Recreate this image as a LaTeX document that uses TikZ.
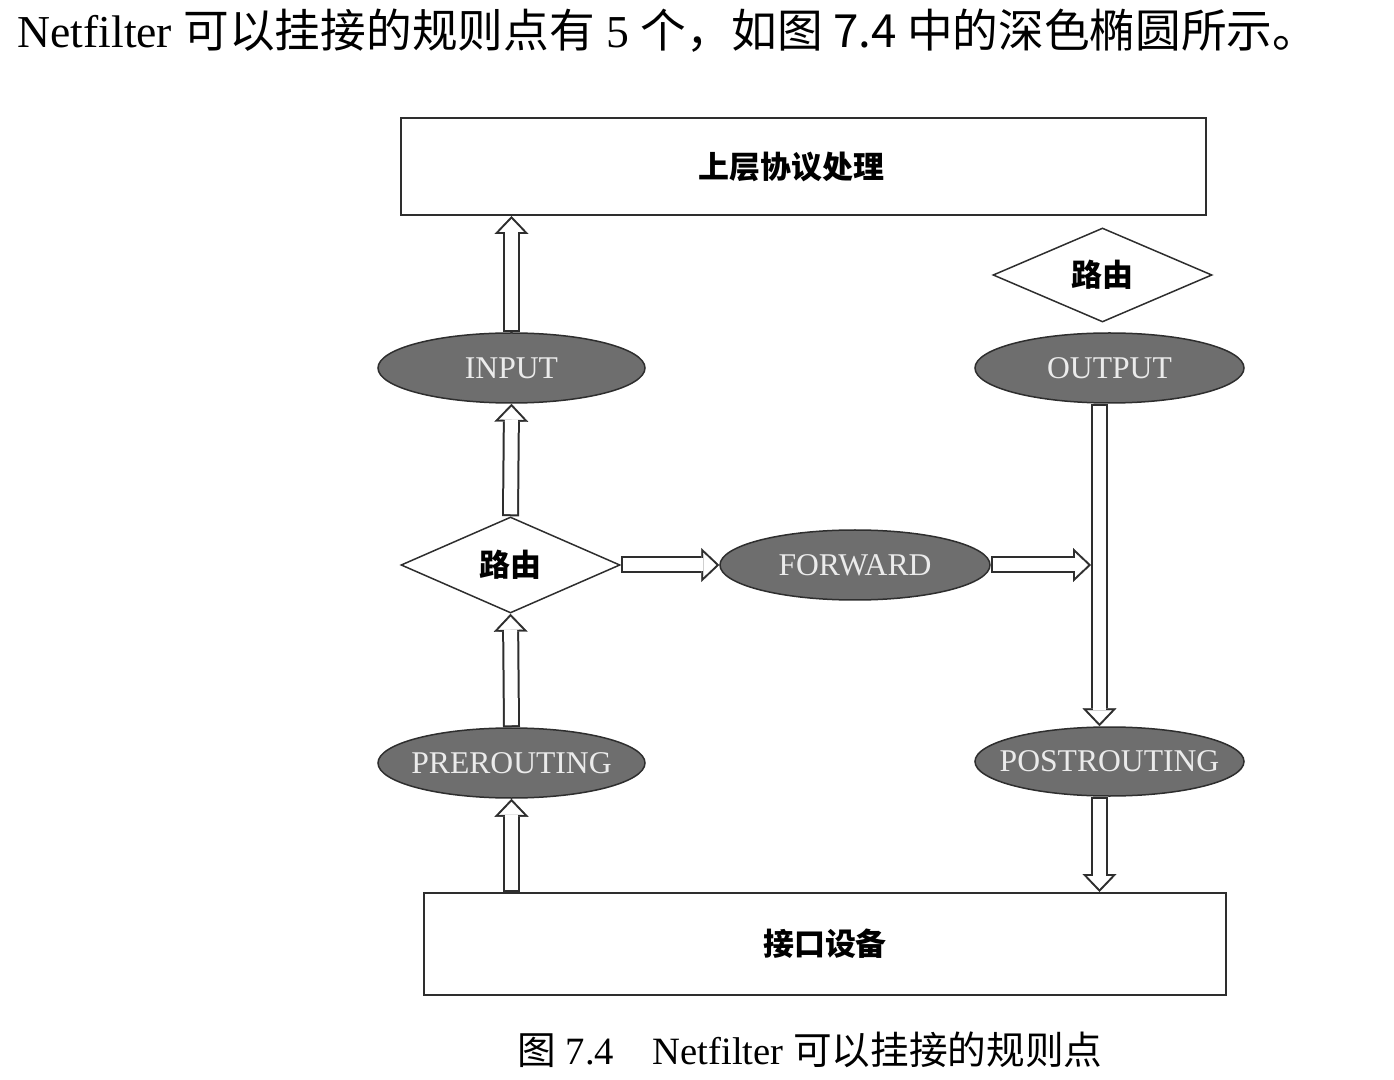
\documentclass[tikz,border=0pt]{standalone}
\usepackage{fontspec}
\setmainfont{Liberation Serif}
\newfontfamily\cjk{Noto Sans CJK SC}
\usetikzlibrary{shapes.geometric,arrows.meta,backgrounds}
\definecolor{edge}{HTML}{2E2E2E}
\definecolor{hook}{HTML}{6E6E6E}
\begin{document}
\begin{tikzpicture}[
    box/.style={draw=edge, line width=0.2mm, inner sep=0pt, font=\cjk\bfseries\fontsize{8.8pt}{10pt}\selectfont},
    hookpoint/.style={ellipse, draw=edge, fill=hook, line width=0.15mm, inner sep=0pt, text=white!92!black, font=\fontsize{9pt}{10pt}\selectfont},
    route/.style={diamond, draw=edge, line width=0.15mm, inner sep=0pt, minimum width=2.19cm, minimum height=0.96cm, font=\cjk\bfseries\fontsize{8.8pt}{10pt}\selectfont},
    hollow/.style={draw=edge, line width=1.7mm, -{Triangle[length=1.8mm, width=3.4mm, line width=0.1pt]},
        postaction={draw=white, line width=1.3mm, -{Triangle[length=1.3mm, width=2.46mm, line width=0.1pt]}, shorten >=0.3mm, shorten <=0.2mm}}
]
\useasboundingbox (0,0) rectangle (13.94,-10.80);
\node[anchor=base west, font=\fontsize{13pt}{15pt}\selectfont] (intro) at (0.05,-0.48) {Netfilter {\cjk 可以挂接的规则点有} 5 {\cjk 个，如图 7.4 中的深色椭圆所示。}};
\node[box, minimum width=8.05cm, minimum height=0.97cm] (upper) at (8.035,-1.665) {\hspace*{-0.24cm}上层协议处理};
\node[box, minimum width=8.02cm, minimum height=1.02cm] (ifdev) at (8.25,-9.44) {接口设备};
\node[hookpoint, minimum width=2.67cm, minimum height=0.70cm] (input) at (5.115,-3.68) {\makebox[0pt]{INPUT}};
\node[route] (route1) at (5.105,-5.65) {路由};
\node[hookpoint, minimum width=2.70cm, minimum height=0.70cm] (forward) at (8.55,-5.65) {\makebox[0pt]{FORWARD}};
\node[route, minimum height=0.94cm] (route2) at (11.025,-2.75) {路由};
\node[hookpoint, minimum width=2.69cm, minimum height=0.70cm] (output) at (11.095,-3.68) {\makebox[0pt]{OUTPUT}};
\node[hookpoint, minimum width=2.69cm, minimum height=0.69cm] (postrouting) at (11.095,-7.615) {\makebox[0pt]{POSTROUTING}};
\node[hookpoint, minimum width=2.67cm, minimum height=0.70cm] (prerouting) at (5.115,-7.63) {\makebox[0pt]{PREROUTING}};
\node[font=\fontsize{11pt}{13pt}\selectfont] (caption) at (8.1,-10.5) {{\cjk 图} 7.4\quad Netfilter {\cjk 可以挂接的规则点}};
\coordinate (merge) at ([xshift=-1.85mm]output.south |- forward.east);
\begin{scope}[on background layer]
\draw[hollow] (input.north) -- (input.north |- upper.south);
\draw[hollow] (route1.north) -- (input.south);
\draw[hollow] (prerouting.north) -- (route1.south);
\draw[hollow] (prerouting |- ifdev.north) -- (prerouting.south);
\draw[hollow] (route1.east) -- (forward.west);
\draw[hollow] (forward.east) -- (merge);
\draw[hollow] ([xshift=-1mm]output.south) -- ([xshift=-1mm]postrouting.north);
\draw[hollow] ([xshift=-1mm]postrouting.south) -- ([xshift=-1mm]postrouting.south |- ifdev.north);
\end{scope}
\end{tikzpicture}
\end{document}
